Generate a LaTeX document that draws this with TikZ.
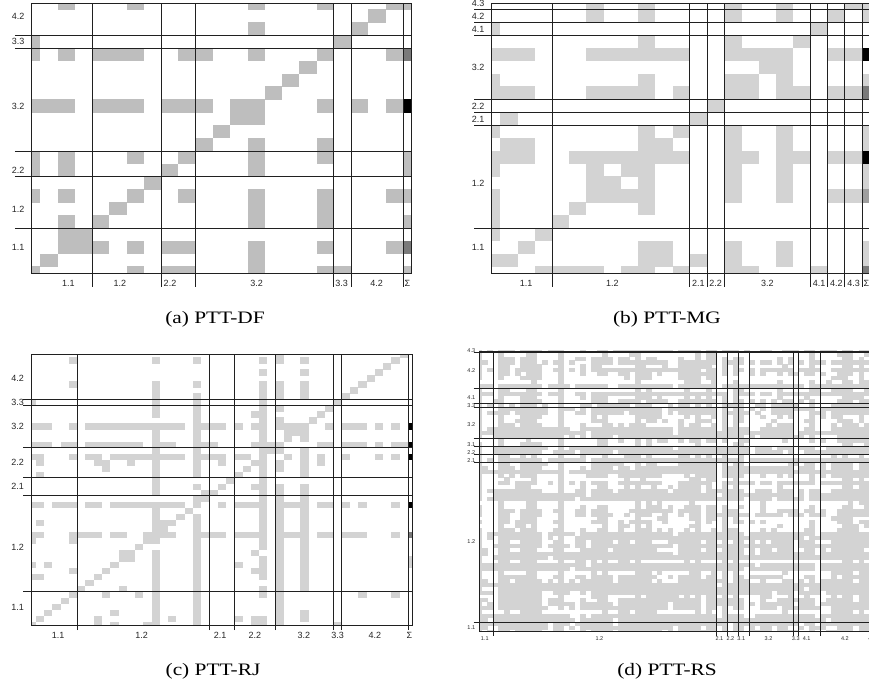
\documentclass[tikz,border=0pt]{standalone}
\usepackage{fontspec}
\setmainfont{Liberation Serif}
\newfontfamily\labfont{Liberation Sans}
\newfontfamily\capfont[FakeStretch=1.22]{Liberation Serif}
\definecolor{gA}{HTML}{BEBEBE}
\definecolor{gL}{HTML}{D3D3D3}
\definecolor{sDark}{HTML}{7A7A7A}
\definecolor{sMid}{HTML}{9E9E9E}
\definecolor{ln}{HTML}{202020}
\tikzset{
  gridln/.style={line width=0.9pt, draw=ln},
  lab/.style={font=\labfont\fontsize{9}{9}\selectfont, inner sep=0pt, text=black!85},
  labS/.style={font=\labfont\fontsize{5.5}{5.5}\selectfont, inner sep=0pt, text=black!85},
  captxt/.style={font=\capfont\fontsize{17.5}{17.5}\selectfont, inner sep=0pt, anchor=base},
}
\newcommand\drawcells[2]{%
  \foreach \j/\cols in {#2}{\foreach \a/\b in \cols {\fill[#1] (\a-0.5,\j-0.5) rectangle (\b+0.5,\j+0.53);}}}
\begin{document}
\begin{tikzpicture}
\useasboundingbox (0,0) rectangle (869pt,683pt);
\fill[white] (0,0) rectangle (869pt,683pt);

% ---------------- panel (a) ----------------
\begin{scope}[shift={(31.67pt,409.7pt)}, x=17.27pt, y=12.857pt]
  \begin{scope}
    \clip (0,0) rectangle (22,21);
    \drawcells{gA}{21/{2/2,6/6,13/13,17/17,21/22},20/{20/20},19/{13/13,19/19},18/{0/0,18/18},
      17/{0/0,2/2,4/6,9/10,13/13,17/17,21/21},16/{16/16},15/{15/15},14/{14/14},
      13/{0/2,4/6,8/10,12/13,17/17,19/19,21/21},12/{12/13},11/{11/11},10/{10/10,13/13,17/17},
      9/{0/0,2/2,6/6,9/9,13/13,17/17,22/22},8/{0/0,2/2,8/8,13/13,22/22},7/{7/7},
      6/{0/0,2/2,6/6,9/9,13/13,17/17,21/22},5/{5/5,13/13,17/17},4/{2/2,4/4,13/13,17/17,22/22},
      3/{2/3},2/{2/4,6/6,8/9,13/13,17/17,21/21},1/{1/1,13/13},0/{0/0,6/6,8/9,13/13,17/18,22/22}}
    \drawcells{sDark}{17/{22/22},2/{22/22}}
    \drawcells{black}{13/{22/22}}
  \end{scope}
  \foreach \v in {3.5,7.5,9.5,17.5,18.5,21.5} \draw[gridln] (\v,-1.04) -- (\v,21);
  \foreach \h in {3.5,7.5,9.5,17.5,18.5} \draw[gridln] (-0.97,\h) -- (22,\h);
  \draw[gridln] (0,0) rectangle (22,21);
  \foreach \t/\p [count=\n] in {4.2/20,3.3/18,3.2/13,2.2/8,1.2/5,1.1/2}
    \node[lab] (ar\n) at (-0.79,\p) {\t};
  \foreach \t/\p [count=\n] in {1.1/2.12,1.2/5.11,2.2/8.01,3.2/13.03,3.3/17.95,4.2/19.98}
    \node[lab] (ac\n) at (\p,-0.75) {\t};
  \node[lab] (asig) at (21.75,-0.75) {Σ};
\end{scope}

% ---------------- panel (b) ----------------
\begin{scope}[shift={(491.67pt,409.7pt)}, x=17.23pt, y=12.857pt]
  \begin{scope}
    \clip (0,0) rectangle (22,21);
    \drawcells{gL}{21/{6/6,9/9,14/14,17/17,21/22},20/{6/6,9/9,14/14,17/17,20/20,22/22},19/{0/0,19/19},
      18/{9/9,14/14,18/18},17/{0/2,6/11,14/17,20/21},16/{16/17},15/{0/0,9/9,14/15,17/17,22/22},
      14/{0/2,6/9,11/11,14/15,17/18,20/21},13/{13/13},12/{1/1,12/12},
      11/{0/0,9/9,11/11,14/14,17/17,22/22},10/{1/2,9/10,14/14,17/17,22/22},
      9/{0/2,5/11,14/15,17/18,20/21},8/{0/0,6/6,8/9,14/14,17/17,22/22},7/{6/7,9/9,14/14,17/17,22/22},
      6/{0/0,6/9,14/14,17/17,20/21},5/{0/0,5/5,9/9},4/{0/0,4/4},3/{0/0,3/3},
      2/{2/2,9/10,14/14,17/17,22/22},1/{0/1,9/10,12/12,14/14,17/17,22/22},0/{3/6,8/9,11/11,14/15,19/19}}
    \drawcells{sDark}{14/{22/22},0/{22/22}}
    \drawcells{sMid}{6/{22/22}}
    \drawcells{black}{17/{22/22},9/{22/22}}
  \end{scope}
  \foreach \v in {3.5,11.5,12.5,13.5,18.5,19.5,20.5,21.5} \draw[gridln] (\v,-1.04) -- (\v,21);
  \foreach \h in {3.5,11.5,12.5,13.5,18.5,19.5,20.5} \draw[gridln] (-1.0,\h) -- (22,\h);
  \draw[gridln] (0,0) rectangle (22,21);
  \foreach \t/\p [count=\n] in {4.3/21,4.2/20,4.1/19,3.2/16,2.2/13,2.1/12,1.2/7,1.1/2}
    \node[lab] (br\n) at (-0.79,\p) {\t};
  \foreach \t/\p [count=\n] in {1.1/2,1.2/7,2.1/12,2.2/13,3.2/16,4.1/19,4.2/20,4.3/21}
    \node[lab] (bc\n) at (\p,-0.75) {\t};
  \node[lab] (bsig) at (21.75,-0.75) {Σ};
\end{scope}

% ---------------- panel (c) ----------------
\begin{scope}[shift={(31.67pt,58pt)}, x=8.27pt, y=6.01pt]
  \begin{scope}
    \clip (0,0) rectangle (46,45);
    \drawcells{gL}{45/{30/30,45/45},44/{5/5,15/15,20/20,28/28,30/30,33/33,44/44},43/{43/43},
      42/{28/28,33/33,42/42},41/{41/41},40/{5/5,15/15,20/20,28/28,30/30,33/33,40/40},
      39/{15/15,28/28,30/30,33/33,39/39},38/{15/15,20/20,28/28,30/30,33/33,38/38},
      37/{0/0,15/15,20/20,28/28,37/37},36/{15/15,20/20,28/28,30/30,36/36},35/{15/15,20/20,27/28,35/35},
      34/{20/20,28/28,30/30,34/34},
      33/{0/2,5/5,7/18,20/23,25/25,27/28,30/33,36/36,38/40,42/42,44/44},
      32/{15/15,20/20,28/28,31/33},31/{15/15,20/20,28/28,31/31,33/33},
      30/{0/2,4/5,7/13,15/17,20/22,27/30,35/36,38/40,42/42,44/45},
      29/{15/15,20/20,28/30,33/33},
      28/{0/1,5/5,7/8,10/18,20/23,25/26,28/28,31/31,33/33,35/35,38/38,42/42,44/44},
      27/{1/1,8/9,12/12,15/15,20/20,23/23,27/28,30/30,33/33,35/35},
      26/{9/9,15/15,20/20,26/26,28/28,30/30,33/33},25/{1/1,15/15,20/20,25/25,28/28,33/33},
      24/{15/15,24/24,28/28},23/{15/15,20/20,23/23,27/28,30/30,33/33},
      22/{15/15,21/22,28/28,30/30,33/33},21/{20/21,28/28,30/30,33/33},
      20/{0/1,3/5,7/8,10/18,20/20,23/23,25/28,30/33,35/36,38/38,40/40,44/44},
      19/{15/15,19/19,28/28,30/30,33/33},18/{15/15,18/18,20/20,28/28,30/30,33/33},
      17/{1/1,15/17,20/20,28/28,30/30,33/33},16/{15/16,20/20,28/28,30/30,33/33},
      15/{0/1,5/8,10/11,14/17,20/23,25/28,30/33,35/36,38/40,44/44},
      14/{0/0,5/5,14/15,20/20,28/28,30/30,33/33},13/{13/13,20/20,28/28,30/30,33/33},
      12/{11/12,15/15,20/20,27/27,30/30,33/33},11/{11/12,15/15,20/20,28/28,30/30,33/33,46/46},
      10/{0/0,2/2,10/10,15/15,20/20,25/25,28/28,30/30,33/33,46/46},
      9/{5/5,9/9,15/15,20/20,27/28,30/30,33/33},8/{0/1,8/8,15/15,20/20,28/28,30/30,33/33},
      7/{7/7,15/15,20/20,30/30,33/33},6/{6/6,11/11,15/15,20/20,28/28,30/30,33/33},
      5/{5/5,9/9,13/13,15/15,20/20,28/28,30/30,40/40,44/44},4/{4/4,15/15,20/20,30/30},
      3/{3/3,15/15,20/20,30/30},2/{2/2,10/10,15/15,20/20,30/30,33/33},
      1/{1/1,8/8,15/15,17/17,20/20,25/25,27/28,30/30,33/33},
      0/{0/0,8/8,10/10,14/15,20/20,27/28,30/30,37/37}}
    \drawcells{sDark}{15/{46/46}}
    \drawcells{black}{33/{46/46},30/{46/46},28/{46/46},20/{46/46}}
  \end{scope}
  \foreach \v in {5.5,21.5,24.5,29.5,36.5,37.5,45.5} \draw[gridln] (\v,-0.85) -- (\v,45);
  \foreach \h in {5.5,21.5,24.5,29.5,36.5,37.5} \draw[gridln] (-1.0,\h) -- (46,\h);
  \draw[gridln] (0,0) rectangle (46,45);
  \foreach \t/\p [count=\n] in {4.2/41,3.3/37,3.2/33,2.2/27,2.1/23,1.2/13,1.1/3}
    \node[lab] (cr\n) at (-1.71,\p) {\t};
  \foreach \t/\p [count=\n] in {1.1/3.2,1.2/13.3,2.1/22.8,2.2/27,3.2/32.9,3.3/37,4.2/41.5}
    \node[lab] (cc\n) at (\p,-1.78) {\t};
  \node[lab] (csig) at (45.66,-1.78) {Σ};
\end{scope}

% ---------------- panel (d) ----------------
\begin{scope}[shift={(479.3pt,51.3pt)}, x=5.457pt, y=3.899pt]
  \begin{scope}
    \clip (0,0) rectangle (73,72);
    \pgfmathsetseed{12345}
    \foreach \k in {0,...,72}{%
      \pgfmathsetmacro\tr{rnd}\expandafter\xdef\csname dR\k\endcsname{\tr}%
      \pgfmathsetmacro\tc{rnd}\expandafter\xdef\csname dC\k\endcsname{\tc}}
    \foreach \i in {0,...,72}{%
      \edef\ca{\csname dC\i\endcsname}%
      \foreach \j in {0,...,72}{%
        \edef\ra{\csname dR\j\endcsname}%
        \pgfmathsetmacro\vv{0.5*\ra+0.5*\ca+0.4*rnd}%
        \ifdim\vv pt>0.6pt\relax
          \fill[gL] (\i-0.5,\j-0.5) rectangle (\i+0.56,\j+0.56);
        \else\ifnum\i=\j\relax
          \fill[gL] (\i-0.5,\j-0.5) rectangle (\i+0.56,\j+0.56);
        \fi\fi
      }}
  \end{scope}
  \foreach \v in {2.5,43.5,45.5,47.5,49.5,57.5,58.5,62.5,71.5} \draw[gridln] (\v,-1.1) -- (\v,72);
  \foreach \h in {2.5,43.5,45.5,47.5,49.5,57.5,58.5,62.5,71.5} \draw[gridln] (-1.06,\h) -- (73,\h);
  \draw[gridln] (0,0) rectangle (73,72);
  \foreach \t/\p [count=\n] in {4.3/72,4.2/67,4.1/60,3.3/58,3.2/53,3.1/48,2.2/46,2.1/44,1.2/23,1.1/1}
    \node[labS] (dr\n) at (-1.47,\p) {\t};
  \foreach \t/\p [count=\n] in {1.1/1,1.2/22,2.1/44,2.2/46,3.1/48,3.2/53,3.3/58,4.1/60,4.2/67,4.3/72}
    \node[labS] (dc\n) at (\p,-1.7) {\t};
\end{scope}

% ---------------- captions ----------------
\node[captxt] (capa) at (215pt,359.7pt) {(a)\ PTT-DF};
\node[captxt] (capb) at (667pt,359.7pt) {(b)\ PTT-MG};
\node[captxt] (capc) at (213pt,8pt) {(c)\ PTT-RJ};
\node[captxt] (capd) at (667pt,8pt) {(d)\ PTT-RS};
\end{tikzpicture}
\end{document}
